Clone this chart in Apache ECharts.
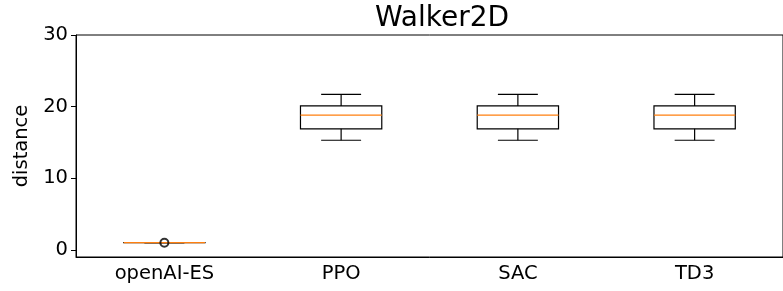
<!DOCTYPE html>
<html lang="en">
<head>
	<meta charset="UTF-8">
	<title>Walker2D</title>
	<script src="https://cdn.jsdelivr.net/npm/echarts@6/dist/echarts.min.js"></script>
</head>
<body style="margin:0;background:#fff;">
	<div id="main" style="width:783px;height:291px;"></div>
	<script type="text/javascript">
        // 数据
        var categories = ['openAI-ES', 'PPO', 'SAC', 'TD3'];
        var lowWhisker = [0.99, 15.3, 15.3, 15.3];
        var q1 = [0.99, 16.9, 16.9, 16.9];
        var median = [1.0, 18.8, 18.8, 18.8];
        var q3 = [1.01, 20.1, 20.1, 20.1];
        var highWhisker = [1.01, 21.7, 21.7, 21.7];
        var outliers = [[0, 1.0]];
        var yTicks = [0, 10, 20, 30];

        var boxData = categories.map(function (c, i) {
            return [i, lowWhisker[i], q1[i], median[i], q3[i], highWhisker[i]];
        });

        function renderBox(params, api) {
            var idx = api.value(0);
            var band = api.size([1, 0])[0];
            var half = band * 0.23;
            var cap = band * 0.113;
            var lo = api.coord([idx, api.value(1)]);
            var b1 = api.coord([idx, api.value(2)]);
            var md = api.coord([idx, api.value(3)]);
            var b3 = api.coord([idx, api.value(4)]);
            var hi = api.coord([idx, api.value(5)]);
            var x = lo[0];
            var black = { stroke: '#000', lineWidth: 1.2, fill: null };
            return {
                type: 'group',
                children: [
                    { type: 'line', shape: { x1: x, y1: lo[1], x2: x, y2: b1[1] }, style: black },
                    { type: 'line', shape: { x1: x, y1: b3[1], x2: x, y2: hi[1] }, style: black },
                    { type: 'line', shape: { x1: x - cap, y1: lo[1], x2: x + cap, y2: lo[1] }, style: black },
                    { type: 'line', shape: { x1: x - cap, y1: hi[1], x2: x + cap, y2: hi[1] }, style: black },
                    { type: 'rect', shape: { x: x - half, y: b3[1], width: half * 2, height: b1[1] - b3[1] }, style: black },
                    { type: 'line', shape: { x1: x - half, y1: md[1], x2: x + half, y2: md[1] },
                      style: { stroke: '#ff7f0e', lineWidth: 1.3 } }
                ]
            };
        }

        var myChart = echarts.init(document.getElementById('main'));
        myChart.setOption({
            animation: false,
            backgroundColor: '#fff',
            textStyle: { fontFamily: 'DejaVu Sans' },
            title: {
                text: 'Walker2D',
                left: 437,
                textAlign: 'center',
                top: 0,
                textStyle: { fontSize: 28, fontWeight: 'normal', color: '#000', fontFamily: 'DejaVu Sans' }
            },
            grid: {
                left: 76, top: 35, bottom: 34, width: 710,
                show: true, borderColor: '#000', borderWidth: 1, backgroundColor: 'transparent'
            },
            xAxis: {
                type: 'category',
                data: categories,
                axisLine: { onZero: false, lineStyle: { color: '#000', width: 1 } },
                axisTick: { alignWithLabel: true, length: 5, lineStyle: { color: '#000' } },
                axisLabel: { fontSize: 19.5, color: '#000', margin: 7, fontFamily: 'DejaVu Sans' },
                splitLine: { show: false }
            },
            yAxis: {
                type: 'value',
                min: -1,
                max: 30,
                name: 'distance',
                nameLocation: 'middle',
                nameGap: 44,
                nameTextStyle: { fontSize: 19.5, color: '#000', fontFamily: 'DejaVu Sans' },
                axisLine: { show: true, lineStyle: { color: '#000', width: 1 } },
                axisTick: { show: true, length: 5, customValues: yTicks, lineStyle: { color: '#000' } },
                axisLabel: { fontSize: 19.5, color: '#000', margin: 8, customValues: yTicks, fontFamily: 'DejaVu Sans' },
                splitLine: { show: false }
            },
            series: [{
                type: 'custom',
                renderItem: renderBox,
                data: boxData,
                encode: { x: 0, y: [1, 2, 3, 4, 5] },
                z: 2
            }, {
                type: 'scatter',
                data: outliers,
                symbol: 'circle',
                symbolSize: 8,
                itemStyle: { color: 'rgba(0,0,0,0)', borderColor: '#000', borderWidth: 2 },
                z: 3
            }]
        });
    </script>
</body>
</html>
